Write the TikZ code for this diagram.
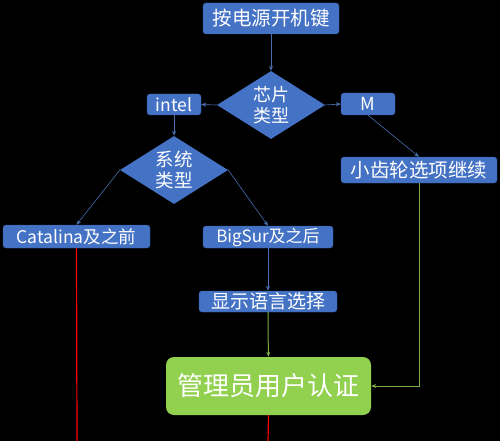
\documentclass[tikz,border=0pt]{standalone}
\usepackage{fontspec}
\usetikzlibrary{shapes.geometric,arrows.meta}
\newfontfamily\cjk{Noto Sans CJK SC}
\definecolor{boxblue}{HTML}{4472C4}
\definecolor{lineblue}{HTML}{4A6FB0}
\definecolor{boxgreen}{HTML}{92D050}
\definecolor{linegreen}{HTML}{7FAF48}
\tikzset{
  bluebox/.style={draw=boxblue!80!black, line width=0.4pt, fill=boxblue, rounded corners=3pt, text=white, inner sep=0pt, align=center},
  decision/.style={shape=diamond, fill=boxblue, text=white, inner sep=0pt, aspect=1.59, align=center},
  greenbox/.style={fill=boxgreen, rounded corners=8pt, text=white, inner sep=0pt},
  bluearrow/.style={draw=lineblue, line width=0.6pt, -{Stealth[length=5pt,width=4pt]}},
  greenarrow/.style={draw=linegreen, line width=1pt, -{Stealth[length=5pt,width=4pt]}},
  redline/.style={draw=red, line width=1.2pt},
}
\begin{document}
\begin{tikzpicture}[x=1pt,y=-1pt]
\useasboundingbox (0,0) rectangle (500,441);
\fill[black] (0,0) rectangle (500,441);

\node[bluebox, minimum width=136pt, minimum height=31pt, font=\cjk\fontsize{19.5}{22}\selectfont] (power) at (271,18.5) {按电源开机键};
\node[decision, minimum width=108pt, minimum height=68pt, font=\cjk\fontsize{18}{20.5}\selectfont] (chip) at (271,105) {芯片\\类型};
\node[bluebox, minimum width=54pt, minimum height=21pt, font=\cjk\fontsize{17.5}{20}\selectfont] (intel) at (174,104.5) {intel};
\node[bluebox, minimum width=54pt, minimum height=22pt, font=\cjk\fontsize{18}{20}\selectfont] (m) at (368,104) {M};
\node[decision, minimum width=108pt, minimum height=68pt, font=\cjk\fontsize{18.5}{21}\selectfont] (sys) at (174,170) {系统\\类型};
\node[bluebox, minimum width=156pt, minimum height=26pt, font=\cjk\fontsize{19.5}{22}\selectfont] (gear) at (419,170) {小齿轮选项继续};
\node[bluebox, minimum width=147pt, minimum height=23pt, font=\cjk\fontsize{17.5}{20}\selectfont] (cat) at (76.5,236.5) {Catalina及之前};
\node[bluebox, minimum width=130pt, minimum height=22pt, font=\cjk\fontsize{17}{20}\selectfont] (big) at (268,237) {BigSur及之后};
\node[bluebox, minimum width=138pt, minimum height=21pt, font=\cjk\fontsize{19}{21}\selectfont] (lang) at (268,301.5) {显示语言选择};
\node[greenbox, minimum width=205pt, minimum height=58pt, font=\cjk\fontsize{26}{30}\selectfont] (admin) at (268.5,386) {管理员用户认证};

\coordinate (catend) at (77,441);
\coordinate (adminend) at (268,441);
\coordinate (gearturn) at (gear.south |- admin.east);

\draw[bluearrow] (power) -- (chip);
\draw[bluearrow] (chip.west) -- (intel.east);
\draw[bluearrow] (chip.east) -- (m.west);
\draw[bluearrow] (intel) -- (sys);
\draw[bluearrow] (m.south) -- (gear.north);
\draw[bluearrow] (sys.west) -- (cat.north);
\draw[bluearrow] (sys.east) -- (big.north);
\draw[bluearrow] (big) -- (lang);
\draw[greenarrow] (lang) -- (admin);
\draw[greenarrow] (gear.south) -- (gearturn) -- (admin.east);
\draw[redline] (cat.south) -- (catend);
\draw[redline] (admin.south) -- (adminend);
\end{tikzpicture}
\end{document}
